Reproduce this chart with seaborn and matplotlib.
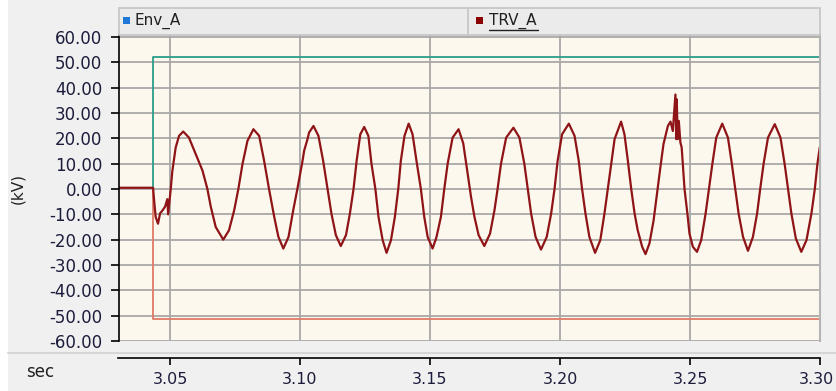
import seaborn as sns
import matplotlib.pyplot as plt
import pandas as pd
from matplotlib.patches import Rectangle
from matplotlib.lines import Line2D
from matplotlib.transforms import ScaledTranslation

# TRV_A trace (time in s, value in kV)
trv_time = [
    3.0304, 3.0435, 3.0439, 3.0445, 3.0454, 3.0462, 3.0471, 3.0481, 3.0490, 3.0493,
    3.0503, 3.0509, 3.0522, 3.0535, 3.0551, 3.0573, 3.0599, 3.0625, 3.0644, 3.0657,
    3.0676, 3.0705, 3.0727, 3.0747, 3.0763, 3.0779, 3.0798, 3.0821, 3.0843, 3.0862,
    3.0881, 3.0901, 3.0917, 3.0936, 3.0956, 3.0974, 3.0990, 3.1010, 3.1016, 3.1029,
    3.1035, 3.1052, 3.1071, 3.1089, 3.1106, 3.1121, 3.1138, 3.1157, 3.1177, 3.1192,
    3.1206, 3.1218, 3.1232, 3.1247, 3.1263, 3.1275, 3.1290, 3.1302, 3.1318, 3.1333,
    3.1350, 3.1365, 3.1378, 3.1388, 3.1402, 3.1418, 3.1433, 3.1448, 3.1465, 3.1478,
    3.1491, 3.1510, 3.1525, 3.1542, 3.1555, 3.1568, 3.1587, 3.1610, 3.1628, 3.1645,
    3.1658, 3.1671, 3.1687, 3.1709, 3.1731, 3.1748, 3.1760, 3.1773, 3.1793, 3.1821,
    3.1844, 3.1863, 3.1876, 3.1889, 3.1906, 3.1927, 3.1949, 3.1966, 3.1979, 3.1991,
    3.2008, 3.2034, 3.2056, 3.2072, 3.2085, 3.2098, 3.2113, 3.2135, 3.2155, 3.2171,
    3.2184, 3.2197, 3.2210, 3.2235, 3.2248, 3.2261, 3.2274, 3.2287, 3.2299, 3.2316,
    3.2329, 3.2344, 3.2360, 3.2373, 3.2386, 3.2398, 3.2415, 3.2425, 3.2434, 3.2444,
    3.2447, 3.2449, 3.2453, 3.2457, 3.2463, 3.2468, 3.2473, 3.2479, 3.2490, 3.2498,
    3.2511, 3.2527, 3.2543, 3.2560, 3.2573, 3.2586, 3.2601, 3.2624, 3.2646, 3.2661,
    3.2674, 3.2687, 3.2704, 3.2723, 3.2742, 3.2758, 3.2770, 3.2783, 3.2800, 3.2826,
    3.2848, 3.2864, 3.2877, 3.2890, 3.2907, 3.2928, 3.2948, 3.2967, 3.2980, 3.2990,
    3.2999,
]
trv_kv = [
    0.5, 0.5, -4.5, -11.0, -13.7, -9.6, -8.5, -7.0, -4.0, -10.0,
    0.0, 7.0, 16.4, 21.0, 22.7, 20.3, 13.8, 7.3, 0.0, -7.0,
    -15.0, -20.0, -16.3, -8.4, 0.0, 9.9, 19.0, 23.6, 21.0, 11.2,
    0.0, -11.0, -18.9, -23.5, -18.9, -8.4, 0.0, 11.2, 15.1, 19.7,
    22.3, 24.9, 21.0, 11.2, 0.0, -9.7, -18.2, -22.5, -18.2, -9.7,
    0.0, 11.2, 21.6, 24.5, 21.0, 10.0, 0.0, -11.0, -20.2, -25.2,
    -20.2, -11.0, 0.0, 11.2, 21.0, 25.8, 21.6, 11.2, 0.0, -11.0,
    -18.9, -23.5, -19.0, -11.0, 0.0, 10.0, 20.3, 23.6, 18.0, 6.0,
    -3.2, -11.0, -18.2, -22.5, -17.6, -8.4, 0.0, 9.9, 20.3, 24.2,
    20.3, 9.9, 0.0, -9.7, -18.9, -23.9, -18.9, -9.7, 0.0, 11.2,
    21.6, 25.8, 21.0, 11.2, 0.0, -9.7, -18.9, -25.2, -20.2, -9.7,
    0.0, 9.9, 19.7, 26.6, 21.6, 11.2, 0.0, -9.7, -16.3, -22.8,
    -25.7, -21.5, -12.4, -1.9, 8.5, 17.7, 24.9, 26.6, 22.9, 37.3,
    19.7, 35.4, 19.7, 26.9, 18.4, 16.4, 9.2, 0.0, -9.7, -17.6,
    -22.8, -24.8, -20.2, -9.7, 0.0, 9.9, 20.3, 25.8, 20.3, 9.9,
    0.0, -9.7, -18.9, -24.4, -18.9, -9.7, 0.0, 9.9, 20.3, 25.6,
    20.3, 9.9, 0.0, -9.7, -19.5, -24.8, -20.2, -9.7, 0.0, 9.9,
    16.4,
]

# Env_A envelope
env_time = [3.0304, 3.0435, 3.0435, 3.30]
env_upper = [0.5, 0.5, 52.0, 52.0]
env_lower = [0.5, 0.5, -51.5, -51.5]

y_ticks = [-60, -50, -40, -30, -20, -10, 0, 10, 20, 30, 40, 50, 60]
x_ticks = [3.05, 3.10, 3.15, 3.20, 3.25, 3.30]

W, H = 836, 391


def fx(px):
    return px / W


def fy(py):
    return 1 - py / H


sns.set_style('white')
plt.rcParams['font.family'] = ['DejaVu Sans']
plt.rcParams['axes.unicode_minus'] = False

text_col = '#1c1c3c'
fig = plt.figure(figsize=(W / 100, H / 100), dpi=100, facecolor='#f0f0f0')

# white strip at the far left
fig.add_artist(Rectangle((0, 0), fx(8), 1, transform=fig.transFigure,
                         facecolor='white', edgecolor='none'))

ax = fig.add_axes([fx(119), fy(341), fx(820) - fx(119), fy(35) - fy(341)])
ax.set_facecolor('#fdf8ed')

df_trv = pd.DataFrame({'t': trv_time, 'v': trv_kv})
df_env = pd.DataFrame({'t': env_time, 'up': env_upper, 'low': env_lower})

sns.lineplot(data=df_env, x='t', y='up', estimator=None, sort=False,
             color='#2a9d8a', lw=1.3, ax=ax)
sns.lineplot(data=df_env, x='t', y='low', estimator=None, sort=False,
             color='#e07a68', lw=1.3, ax=ax)
sns.lineplot(data=df_trv, x='t', y='v', estimator=None, sort=False,
             color='#8e1418', lw=1.6, ax=ax)

ax.set_xlim(3.0304, 3.30)
ax.set_ylim(-60, 60.8)
ax.set_yticks(y_ticks)
ax.set_yticklabels([f'{v:.2f}' for v in y_ticks])
ax.set_xticks(x_ticks)
ax.tick_params(axis='x', bottom=False, labelbottom=False)
ax.tick_params(axis='y', left=True, direction='out', length=6, width=1.2,
               pad=6, labelsize=12, labelcolor=text_col, color='black')
ax.grid(True, color='#a8a8a8', lw=1.3)
ax.set_axisbelow(True)
ax.set_xlabel('')
ax.set_ylabel('')
ax.spines['top'].set_visible(False)
ax.spines['bottom'].set_visible(False)
ax.spines['right'].set_color('#b4b4b4')
ax.spines['right'].set_linewidth(1.5)
ax.spines['left'].set_color('black')
ax.spines['left'].set_linewidth(1.2)

# separate time axis strip below the plot
bx = fig.add_axes([fx(118), fy(358), fx(820) - fx(118), 0.0001])
bx.set_xlim(3.0300, 3.30)
bx.set_xticks(x_ticks)
bx.set_xticklabels([f'{v:.2f}' for v in x_ticks])
bx.set_yticks([])
bx.patch.set_alpha(0)
for s in ['top', 'left', 'right']:
    bx.spines[s].set_visible(False)
bx.spines['bottom'].set_color('black')
bx.spines['bottom'].set_linewidth(1.2)
bx.tick_params(axis='x', bottom=True, direction='out', length=5, width=1.2,
               pad=5, labelsize=11.5, labelcolor=text_col, color='black')
# keep the last label inside the picture
last = bx.get_xticklabels()[-1]
last.set_transform(last.get_transform() + ScaledTranslation(-4 / 100, 0, fig.dpi_scale_trans))

fig.add_artist(Line2D([fx(8), 1], [fy(353), fy(353)], transform=fig.transFigure,
                      color='#d6d6d6', lw=1.5))

# legend bar on top
fig.add_artist(Rectangle((fx(119), fy(35)), fx(820) - fx(119), fy(8) - fy(35),
                         transform=fig.transFigure, facecolor='#ebebeb',
                         edgecolor='#c4c4c4', lw=1.2))
fig.add_artist(Line2D([fx(468), fx(468)], [fy(35), fy(8)], transform=fig.transFigure,
                      color='#c4c4c4', lw=1.2))
fig.add_artist(Rectangle((fx(123), fy(24)), fx(7), fy(17) - fy(24),
                         transform=fig.transFigure, facecolor='#1e78d8', edgecolor='none'))
fig.text(fx(135), fy(21), 'Env_A', fontsize=11, color='#202020', va='center', ha='left')
fig.add_artist(Rectangle((fx(476), fy(24)), fx(7), fy(17) - fy(24),
                         transform=fig.transFigure, facecolor='#8b0000', edgecolor='none'))
fig.text(fx(489), fy(21), 'TRV_A', fontsize=11, color='#202020', va='center', ha='left')
fig.add_artist(Line2D([fx(489), fx(538)], [fy(30), fy(30)], transform=fig.transFigure,
                      color='#202020', lw=1.0))

fig.text(fx(18), fy(188), '(kV)', rotation=90, fontsize=11, color='#202020',
         ha='center', va='center')
fig.text(fx(40), fy(372), 'sec', fontsize=12, color='#202020', ha='center', va='center')

plt.savefig('out.png', dpi=100, facecolor=fig.get_facecolor())
